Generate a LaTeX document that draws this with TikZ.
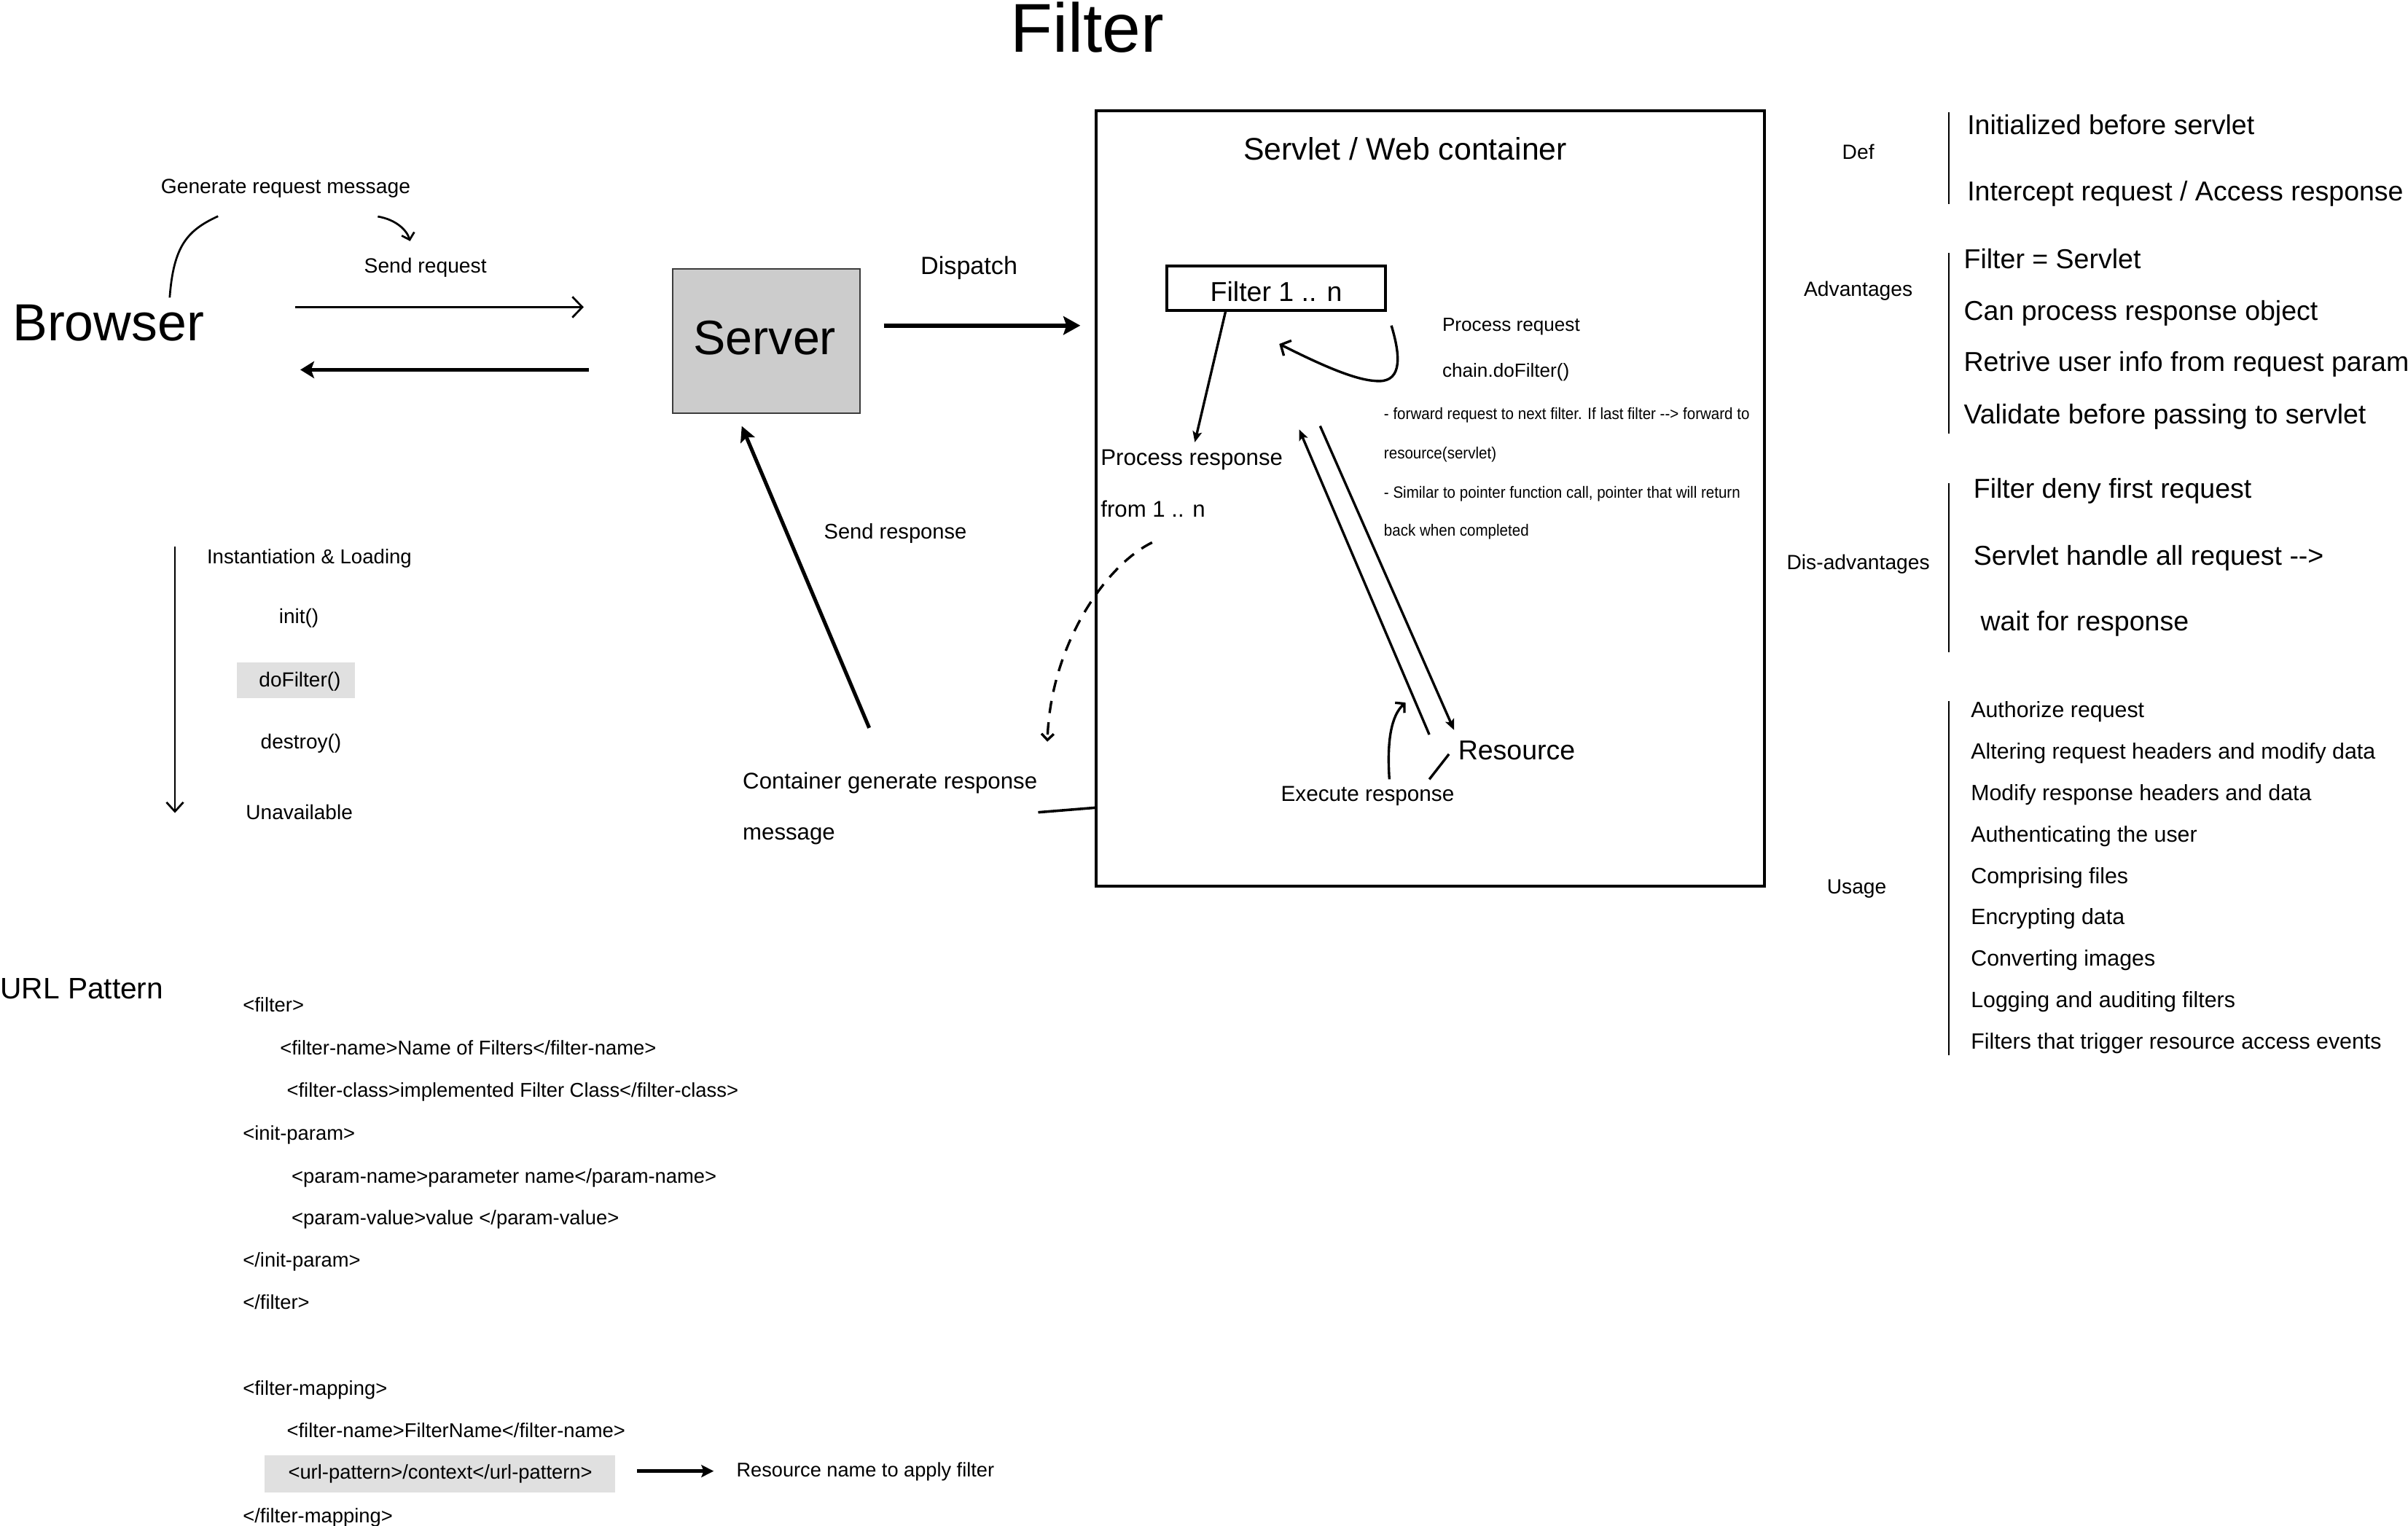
\documentclass[tikz,border=0pt]{standalone}
\usepackage{fontspec}
\setmainfont{Liberation Sans}
\newfontfamily\narrowfont[FakeStretch=0.92]{Liberation Sans}
\usetikzlibrary{arrows.meta}
\definecolor{srvgray}{RGB}{204,204,204}
\definecolor{hlgray}{RGB}{224,224,224}
\definecolor{edgegray}{RGB}{60,60,60}
\begin{document}
\begin{tikzpicture}[x=1pt,y=-1pt,
  tx/.style={inner sep=0pt, text height={0.72*#1pt}, text depth=0pt, font=\fontsize{#1}{#1}\selectfont},
  ntx/.style={inner sep=0pt, text height={0.72*#1pt}, text depth=0pt, font=\narrowfont\fontsize{#1}{#1}\selectfont},
  ln/.style={line width=1.6pt},
  thinln/.style={line width=1.3pt},
  thickln/.style={line width=2.4pt},
  barbsm/.style={-{Straight Barb[length=4pt,width=8.5pt]}},
  fillsm/.style={-{Stealth[length=7pt,width=6pt,inset=1.5pt]}},
  fillbig/.style={-{Stealth[length=10pt,width=10pt,inset=2pt]}},
  bar/.style={line width=1.4pt}
]
\useasboundingbox (0,0) rectangle (1568,993.3);

% title
\node[tx=45] (title) at (708,17.5) {Filter};

% browser / server
\node[tx=34, anchor=west] (browser) at (8,209.5) {Browser};
\node[tx=13.4] (genmsg) at (186,121) {Generate request message};
\node[tx=13.4] (sendreq) at (277,173) {Send request};
\node[draw=edgegray, line width=0.9pt, fill=srvgray, minimum width=122pt, minimum height=94pt, inner sep=0pt] (server) at (499,222) {};
\node[tx=31.5] (servertxt) at (498,219.5) {Server};

\coordinate (g1s) at (110.5,193.8);
\coordinate (g1e) at (142,140.8);
\draw[thinln] (g1s) .. controls (113,160) and (122,150) .. (g1e);
\coordinate (g2s) at (246,141);
\coordinate (g2e) at (267,157);
\draw[thinln, barbsm] (g2s) .. controls (258,143) and (265,150) .. (g2e);

\draw[thinln, -{Straight Barb[length=6.5pt,width=13.5pt]}] ([xshift=59pt,yshift=9.5pt]browser.east) -- ++(188,0);
\draw[line width=2.3pt, -{Stealth[length=9pt,width=11pt,inset=2pt]}] ([xshift=-54pt,yshift=-18.8pt]server.west) -- ++(-188,0);

% dispatch
\node[tx=16.2] (dispatch) at (631,173) {Dispatch};
\draw[line width=3pt, -{Stealth[length=11pt,width=12pt,inset=2pt]}] ([xshift=15pt,yshift=10pt]server.east) -- ++(128,0);

% container
\node[draw, line width=1.9pt, minimum width=435pt, minimum height=505pt, anchor=north west, inner sep=0pt] (cont) at (713,71) {};
\node[tx=20.3] (conttitle) at (915,97) {Servlet / Web container};
\node[draw, line width=1.9pt, minimum width=142pt, minimum height=29pt, inner sep=0pt] (filt) at (831,187.5) {};
\node[tx=17.8] (filttxt) at (831,190) {Filter 1 .. n};

\node[tx=12.4, anchor=west] (procreq) at (939,211) {Process request};
\node[tx=12.4, anchor=west] (chain) at (939,241) {chain.doFilter()};
\node[ntx=10.6, anchor=west] (n1) at (901,269.5) {- forward request to next filter. If last filter {-}{-}> forward to};
\node[ntx=10.6, anchor=west] (n2) at (901,295) {resource(servlet)};
\node[ntx=10.6, anchor=west] (n3) at (901,320.4) {- Similar to pointer function call, pointer that will return};
\node[ntx=10.6, anchor=west] (n4) at (901,345) {back when completed};

\node[tx=14.8, anchor=west] (procresp) at (716.6,297.7) {Process response};
\node[tx=14.8, anchor=west] (from1n) at (716.6,331.6) {from 1 .. n};
\node[tx=17.8, anchor=west] (resource) at (949.3,488.5) {Resource};
\node[tx=14.1, anchor=west] (exec) at (833.9,516.7) {Execute response};

\coordinate (prArrow) at (778,288);
\draw[ln, fillsm] ([xshift=-33pt]filt.south) -- (prArrow);

\coordinate (chS) at (906,212);
\coordinate (chE) at (833,224);
\draw[ln, -{Straight Barb[length=5pt,width=11pt]}] (chS) .. controls (913,235) and (912,250) .. (895,248) .. controls (880,247) and (855,235) .. (chE);

\coordinate (aTop) at (846,279.7);
\coordinate (aBot) at (930.7,478.4);
\coordinate (bTop) at (859.6,277.4);
\coordinate (bBot) at (946.8,475.4);
\draw[ln, fillsm] (aBot) -- (aTop);
\draw[ln, fillsm] (bTop) -- (bBot);

\coordinate (exS) at (904.7,507.5);
\coordinate (exE) at (915.2,457.5);
\draw[ln, -{Straight Barb[length=4pt,width=9pt]}] (exS) .. controls (903,482) and (906,466) .. (exE);
\coordinate (rlS) at (930.7,507.5);
\coordinate (rlE) at (943.5,491.1);
\draw[ln] (rlS) -- (rlE);

% dashed return
\coordinate (dS) at (750.2,353.3);
\coordinate (dE) at (682,483);
\draw[ln, dash pattern=on 8pt off 6pt, -{Straight Barb[length=4pt,width=8pt]}] (dS) .. controls (720,368) and (684,420) .. (dE);

% container generate response
\node[tx=14.8, anchor=west] (cgr) at (483.5,508.6) {Container generate response};
\node[tx=14.8, anchor=west] (cgr2) at (483.5,541.8) {message};
\coordinate (cgrL) at (676,529);
\coordinate (cgrR) at (713,526);
\draw[line width=1.7pt] (cgrL) -- (cgrR);

\node[tx=13.8] (sendresp) at (583,346) {Send response};
\coordinate (srS) at (566,474);
\draw[thickln, fillbig] (srS) -- ([xshift=-16pt,yshift=-8pt]server.south);

% lifecycle
\coordinate (lcT) at (113.9,355.9);
\coordinate (lcB) at (113.9,529.4);
\draw[thinln, -{Straight Barb[length=6pt,width=11pt]}] (lcT) -- (lcB);
\node[tx=13.1, anchor=west] (inst) at (134.6,362.2) {Instantiation \& Loading};
\node[tx=13.3] (init) at (194.6,401) {init()};
\node[fill=hlgray, minimum width=77pt, minimum height=23.3pt, inner sep=0pt] (dofbox) at (192.65,443.05) {};
\node[tx=13.3] (dof) at (195.3,442.7) {doFilter()};
\node[tx=13.3] (destroy) at (196,483) {destroy()};
\node[tx=13.3] (unavail) at (194.9,528.7) {Unavailable};

% right side
\node[tx=13.4] (def) at (1210,99) {Def};
\node[tx=13.4] (adv) at (1210,188) {Advantages};
\node[tx=13.4] (disadv) at (1210,366) {Dis-advantages};
\node[tx=13.4] (usage) at (1209,577) {Usage};

\coordinate (b1t) at (1269,73); \coordinate (b1b) at (1269,133);
\coordinate (b2t) at (1269,164.6); \coordinate (b2b) at (1269,282.5);
\coordinate (b3t) at (1269,314.7); \coordinate (b3b) at (1269,424.8);
\coordinate (b4t) at (1269,456.6); \coordinate (b4b) at (1269,687.2);
\draw[bar] (b1t) -- (b1b);
\draw[bar] (b2t) -- (b2b);
\draw[bar] (b3t) -- (b3b);
\draw[bar] (b4t) -- (b4b);

\node[tx=17.8, anchor=west] (d1) at (1280.8,81) {Initialized before servlet};
\node[tx=17.8, anchor=west] (d2) at (1280.8,124.2) {Intercept request / Access response};
\node[tx=17.8, anchor=west] (a1) at (1278.6,168.3) {Filter = Servlet};
\node[tx=17.8, anchor=west] (a2) at (1278.6,202.1) {Can process response object};
\node[tx=17.8, anchor=west] (a3) at (1278.6,235.6) {Retrive user info from request param};
\node[tx=17.8, anchor=west] (a4) at (1278.6,269.5) {Validate before passing to servlet};
\node[tx=17.8, anchor=west] (x1) at (1284.9,317.9) {Filter deny first request};
\node[tx=17.8, anchor=west] (x2) at (1284.9,361.5) {Servlet handle all request {-}{-}>};
\node[tx=17.8, anchor=west] (x3) at (1289.5,404.3) {wait for response};

\node[tx=14.4, anchor=west] (u1) at (1283.2,462) {Authorize request};
\node[tx=14.4, anchor=west] (u2) at (1283.2,489) {Altering request headers and modify data};
\node[tx=14.4, anchor=west] (u3) at (1283.2,516) {Modify response headers and data};
\node[tx=14.4, anchor=west] (u4) at (1283.2,543) {Authenticating the user};
\node[tx=14.4, anchor=west] (u5) at (1283.2,570) {Comprising files};
\node[tx=14.4, anchor=west] (u6) at (1283.2,597) {Encrypting data};
\node[tx=14.4, anchor=west] (u7) at (1283.2,624) {Converting images};
\node[tx=14.4, anchor=west] (u8) at (1283.2,651) {Logging and auditing filters};
\node[tx=14.4, anchor=west] (u9) at (1283.2,678) {Filters that trigger resource access events};

% URL pattern
\node[tx=19.3, anchor=west] (urlp) at (0,643.4) {URL Pattern};
\node[tx=13, anchor=west] (x01) at (158,654.2) {<filter>};
\node[tx=13, anchor=west] (x02) at (182.2,682.3) {<filter-name>Name of Filters</filter-name>};
\node[tx=13, anchor=west] (x03) at (186.6,709.9) {<filter-class>implemented Filter Class</filter-class>};
\node[tx=13, anchor=west] (x04) at (158,737.7) {<init-param>};
\node[tx=13, anchor=west] (x05) at (189.7,765.8) {<param-name>parameter name</param-name>};
\node[tx=13, anchor=west] (x06) at (189.7,792.9) {<param-value>value </param-value>};
\node[tx=13, anchor=west] (x07) at (158,820.5) {</init-param>};
\node[tx=13, anchor=west] (x08) at (158,848.1) {</filter>};
\node[tx=13, anchor=west] (x09) at (158,903.8) {<filter-mapping>};
\node[tx=13, anchor=west] (x10) at (186.6,931.4) {<filter-name>FilterName</filter-name>};
\node[fill=hlgray, minimum width=227.9pt, minimum height=24pt, inner sep=0pt] (urlbox) at (286.45,959.8) {};
\node[tx=13, anchor=west] (x11) at (187.5,958.6) {<url-pattern>/context</url-pattern>};
\node[tx=13, anchor=west] (x12) at (158,986.7) {</filter-mapping>};
\draw[thickln, -{Stealth[length=8pt,width=8pt,inset=1.5pt]}] ([xshift=14.4pt,yshift=1.8pt]urlbox.east) -- ++(49.7,0);
\node[tx=12.9, anchor=west] (resname) at (479.4,957) {Resource name to apply filter};
\end{tikzpicture}
\end{document}
